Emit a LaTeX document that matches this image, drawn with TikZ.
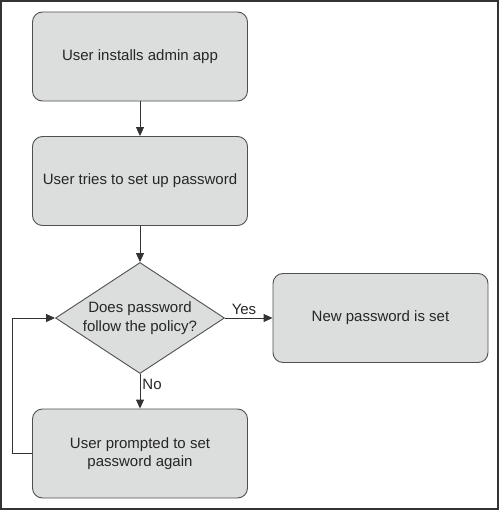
\documentclass[tikz,border=0pt]{standalone}
\usepackage{fontspec}
\setmainfont{Liberation Sans}
\usetikzlibrary{shapes.geometric,arrows.meta}
\definecolor{boxfill}{HTML}{DCDDDD}
\definecolor{edge}{HTML}{505050}
\begin{document}
\begin{tikzpicture}[x=1pt,y=-1pt,
  every node/.style={font=\fontsize{15}{18.5}\selectfont, text=black!85},
  proc/.style={draw=edge, line width=0.9pt, fill=boxfill, rounded corners=10pt, minimum width=215pt, minimum height=89pt, align=center},
  decision/.style={draw=edge, line width=0.9pt, fill=boxfill, diamond, minimum width=169pt, minimum height=111pt, inner sep=0pt},
  conn/.style={draw=black!80, line width=0.9pt, -{Triangle[length=9pt,width=8pt]}},
  lbl/.style={font=\fontsize{15}{18}\selectfont}]
\useasboundingbox (0,0) rectangle (500,511);
\draw[line width=1.2pt, draw=black!80] (1,1) rectangle (498,509);
\node[proc] (install) at (140,56.5) {User installs admin app};
\node[proc] (setup) at (140,181) {User tries to set up password};
\node[decision] (check) at (140,318) {};
\node[align=center] (checktext) at (check.center) {Does password\\follow the policy?};
\node[proc] (newpw) at (380.5,318) {New password is set};
\node[proc] (again) at (140,453.5) {User prompted to set\\password again};
\coordinate (lb) at (12,453.5);
\coordinate (lt) at (12,318);
\draw[conn] (install) -- (setup);
\draw[conn] (setup) -- (check);
\draw[conn] (check) -- node[lbl, above, pos=0.4, inner sep=3pt] {Yes} (newpw);
\draw[conn] (check) -- node[lbl, right, pos=0.3, inner sep=2pt] {No} (again);
\draw[conn] (again.west) -- (lb) -- (lt) -- (check.west);
\end{tikzpicture}
\end{document}
